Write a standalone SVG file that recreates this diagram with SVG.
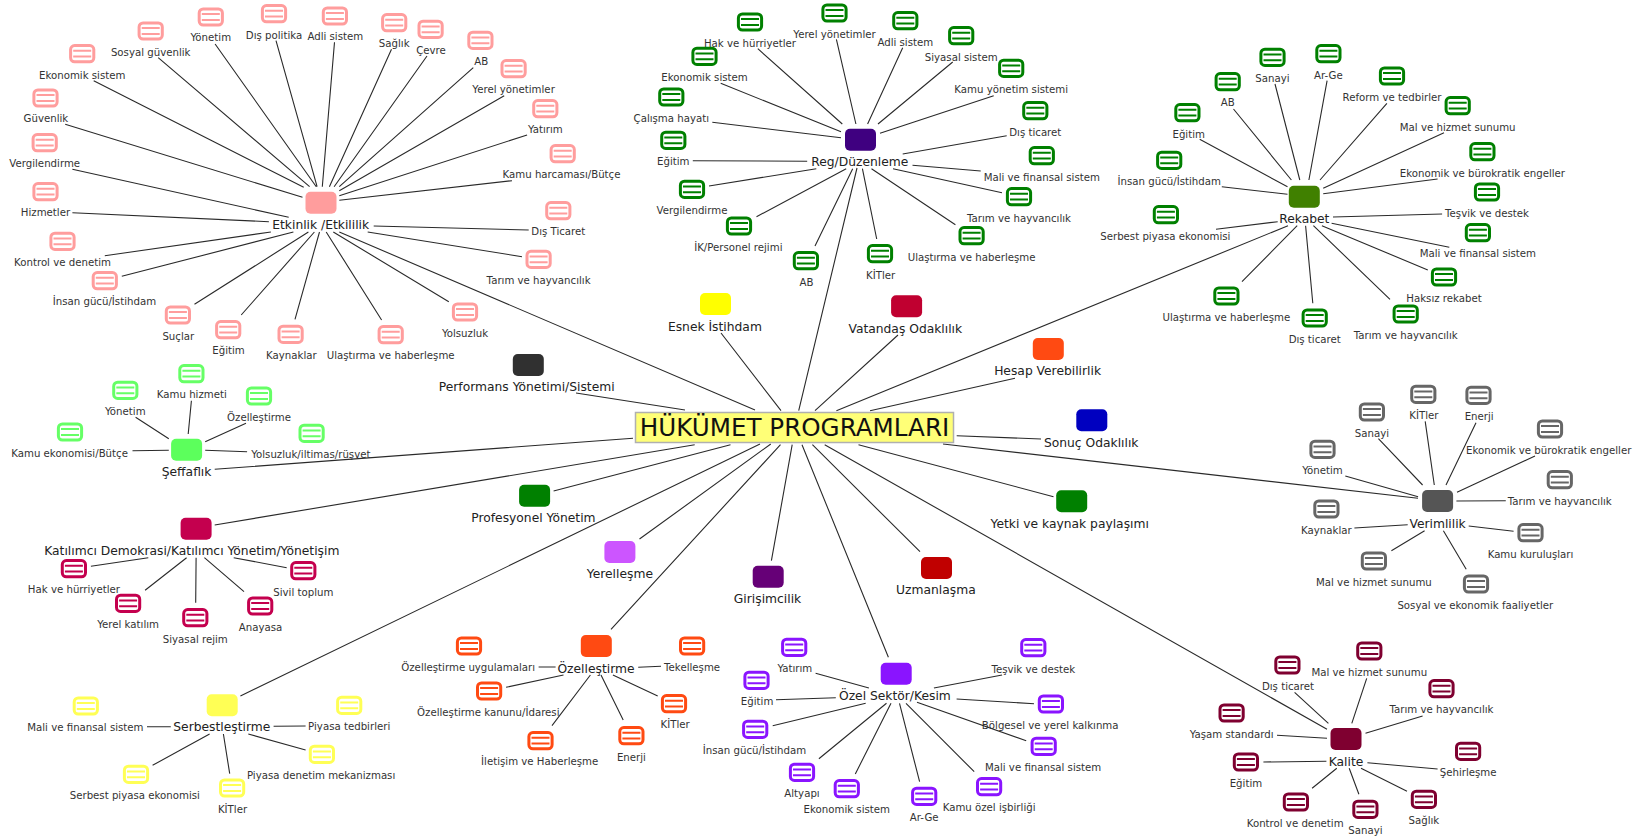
<svg xmlns="http://www.w3.org/2000/svg" width="1639" height="837" viewBox="0 0 1639 837">
<style>
text{font-family:"DejaVu Sans","Liberation Sans",sans-serif;text-anchor:middle;fill:#333}
.l text{font-size:10.2px}
.h text{font-size:12.3px;fill:#222}
#conn path{stroke:#2a2a2a;stroke-width:1.1;fill:none}
.pink{color:#ff9d9d}.green{color:#008000}.lime{color:#66ff66}.crim{color:#c4004e}.yel{color:#ffff55}.ora{color:#ff4a12}.pur{color:#8a14ff}.mar{color:#7f0030}.gry{color:#666}
</style>
<defs>
<g id="leaf"><rect x="-11.6" y="-8.1" width="23.2" height="16.2" rx="4" fill="#fff" stroke="currentColor" stroke-width="3"/><path d="M-9-2.9H9M-9 2.9H9" stroke="currentColor" stroke-width="2" fill="none"/></g>
<rect id="hub" x="-15.5" y="-11" width="31" height="22" rx="5" fill="currentColor"/>
</defs>
<g id="conn">
<path d="M93.7 80.7L303.7 187.3M158.2 57.7L309.6 186.7M215.1 44L316.3 186.7M276 40.7L317.1 186.7M334.5 42.3L322.3 186.7M391.5 49.3L329.4 186.7M427 56L334.1 186.7M473.3 67.7L339.3 186.7M504.2 95.7L339.3 190.7M527.1 135L339.3 195.7M512 180.7L339.3 200.3M528.7 230L373.7 226M522 256.7L367.7 232M448.8 301.7L333.3 232M381.6 320L326.2 232M295 319.3L319.5 232M241.2 315L314.4 232M194.5 304.3L308.4 232M121.8 276.3L293.4 232M104.8 255.7L270.9 232M72.4 212.7L268.9 221.7M72.4 169.3L288.7 217.3M65.2 124.3L302.5 197.3"/>
<path d="M339.3 232L755 410M576 393L685 410M721 333L781 410.7M857 168L798.7 410.7M898 335L815 410.7M1288 225.7L836.4 410.7M1015 378.3L870 410.7M956.7 435.7L1041 439M943 444L1418 498.3M858.5 444.7L1053.5 496.7M824.7 444.7L1327 729.3M812.4 444.7L920 551.7M802 444.7L888.4 657.3M792.2 444.7L771.4 560.7M780.5 444.7L611 629.3M770.8 444L639.5 539M760 444L240.4 696M730.5 444.7L553.6 491M694.7 444.7L214.7 525M633 438.3L214.7 469.3"/>
<path d="M757.8 48.7L842.3 124M836.4 39.3L855.9 124M902.7 47.7L867.6 124M952.7 62L878 124M993.7 95.7L880 133.3M1006.7 135.7L902.7 154M980.7 171L912.5 165.3M1002 192.7L893 168.7M955.4 224.7L871.5 168.7M876.7 239L862.4 168.7M815 246L852.7 168.7M756.5 216.7L846.2 168.7M709 186L816.3 168.7M692.8 160.7L807.2 161.3M712.3 122.3L841 137.7M720.7 83.3L841 131.7"/>
<path d="M1233.5 109L1291.4 180M1275 84L1299.8 180M1327.1 80.7L1308.9 180M1386.9 103.3L1320 180M1444 132.7L1323.2 188.3M1437.6 179L1323.2 193.7M1442.1 214L1333 217M1449.3 247.3L1331.6 223.3M1427.8 270L1321.9 225.7M1390 299.3L1313.4 225.7M1312.8 303.3L1305.6 225.7M1242 281.7L1297.2 225.7M1216 229.3L1277.7 221.7M1221.8 186.7L1287.5 194.3M1199.7 139.3L1287.5 186.7"/>
<path d="M191.4 400.7L188.2 434M135.6 417.3L168.8 438.7M246 423.3L205.2 441.7M247.1 451.7L205.2 450.3M132.5 450.7L168.8 450.3"/>
<path d="M90.9 566.3L148.3 557.7M145.1 590.3L186.6 557.7M195.7 602.7L196.1 557.7M244 591.7L204.4 557.7M286.7 567.7L233.7 557.7"/>
<path d="M147 726.7L170.8 726.7M273.6 726.3L305.6 726M305.6 750L248.3 734M229.7 773.7L223.4 734M152.6 765.3L209.6 734"/>
<path d="M538.6 667L555.6 667M506.1 687.3L563.5 675M552 725.7L590.4 675M601 675L623.2 720M612.9 675L657.7 696M638.2 667.3L661 666.3"/>
<path d="M815.6 673.3L868.9 688M776 699.7L835.8 697.7M772.7 725.7L865.7 703.3M818.9 758.7L886.5 703.3M855.3 774L891 703.3M919.6 781.7L899.5 703.3M974.2 771.7L906 703.3M1026.2 740.7L917 702.3M1034 703.7L956.6 699M1002.1 675L933.9 688"/>
<path d="M1366.7 678.3L1351.8 723.3M1294.6 692.3L1328.4 723.3M1422.6 716L1365.5 733.3M1277 735.3L1327 738.3M1263.4 762L1326.4 761.3M1437.6 769L1367.4 762.7M1407 791.3L1361 768.3M1358.9 794.3L1349.2 768.3M1312.1 788.3L1336.8 768.3"/>
<path d="M1345.3 476L1418.1 496.7M1378.4 438.7L1422.6 485M1425.2 421.3L1434.3 485M1476 422.7L1446 485M1535 456L1457 492.3M1505.8 500.7L1456.4 501M1513.6 531.3L1468.7 526M1466.2 569.3L1443.4 530.7M1391.4 550.7L1424.6 530.7M1354.4 528L1407.7 524.7"/>
</g>
<g id="root"><rect x="635.5" y="412.5" width="318" height="30" fill="#ffff77" stroke="#b0b0b0" stroke-width="1.5"/><text x="794.5" y="436.3" style="font-size:24.6px;fill:#111">HÜKÜMET PROGRAMLARI</text></g>
<g class="h">
<g id="h1" class="pink"><use href="#hub" x="321" y="202.7"/><text x="320.7" y="228.8">Etkinlik /Etkililik</text></g>
<g id="h2" style="color:#3f0080"><use href="#hub" x="860.5" y="139.7"/><text x="859.8" y="166.1">Reg/Düzenleme</text></g>
<g id="h3" style="color:#408000"><use href="#hub" x="1304.3" y="196.7"/><text x="1304.3" y="222.8">Rekabet</text></g>
<g id="h4" style="color:#ffff00"><use href="#hub" x="715.5" y="304"/><text x="714.9" y="330.5">Esnek İstihdam</text></g>
<g id="h5" style="color:#c00030"><use href="#hub" x="906.6" y="306.3"/><text x="905.3" y="332.8">Vatandaş Odaklılık</text></g>
<g id="h6" style="color:#ff4a12"><use href="#hub" x="1048.3" y="349"/><text x="1047.6" y="375.3">Hesap Verebilirlik</text></g>
<g id="h7" style="color:#303030"><use href="#hub" x="528.3" y="365"/><text x="526.7" y="391.1">Performans Yönetimi/Sistemi</text></g>
<g id="h8" style="color:#0000c0"><use href="#hub" x="1091.8" y="420.3"/><text x="1091.2" y="446.5">Sonuç Odaklılık</text></g>
<g id="h9" style="color:#008000"><use href="#hub" x="1071.7" y="501.3"/><text x="1069.7" y="527.8">Yetki ve kaynak paylaşımı</text></g>
<g id="h10" style="color:#c00000"><use href="#hub" x="936.5" y="568"/><text x="935.9" y="594.1">Uzmanlaşma</text></g>
<g id="h11" style="color:#660077"><use href="#hub" x="768.2" y="576.7"/><text x="767.5" y="603.1">Girişimcilik</text></g>
<g id="h12" style="color:#cc55ff"><use href="#hub" x="619.9" y="552"/><text x="619.9" y="577.8">Yerelleşme</text></g>
<g id="h13" style="color:#008000"><use href="#hub" x="534.6" y="495.7"/><text x="533.4" y="522.1">Profesyonel Yönetim</text></g>
<g id="h14" style="color:#5cff5c"><use href="#hub" x="186.6" y="449.7"/><text x="186.6" y="476.1">Şeffaflık</text></g>
<g id="h15" class="crim"><use href="#hub" x="196.1" y="528.7"/><text x="191.8" y="554.8">Katılımcı Demokrasi/Katılımcı Yönetim/Yönetişim</text></g>
<g id="h16" class="yel"><use href="#hub" x="222.2" y="705.3"/><text x="221.8" y="731.1">Serbestleştirme</text></g>
<g id="h17" class="ora"><use href="#hub" x="596.3" y="646"/><text x="596" y="672.8">Özelleştirme</text></g>
<g id="h18" class="pur"><use href="#hub" x="896.2" y="673.7"/><text x="894.9" y="699.8">Özel Sektör/Kesim</text></g>
<g id="h19" class="mar"><use href="#hub" x="1346" y="739"/><text x="1346" y="765.8">Kalite</text></g>
<g id="h20" style="color:#555"><use href="#hub" x="1437.6" y="501"/><text x="1437.6" y="527.5">Verimlilik</text></g>
</g>
<g class="l">
<g class="pink">
<g id="a1"><use href="#leaf" x="82.2" y="53.7"/><text x="82.2" y="78.7">Ekonomik sistem</text></g>
<g id="a2"><use href="#leaf" x="150.7" y="31"/><text x="150.7" y="56">Sosyal güvenlik</text></g>
<g id="a3"><use href="#leaf" x="210.8" y="17"/><text x="210.8" y="41.4">Yönetim</text></g>
<g id="a4"><use href="#leaf" x="274" y="13.7"/><text x="274" y="38.7">Dış politika</text></g>
<g id="a5"><use href="#leaf" x="334.9" y="16"/><text x="335.3" y="40.4">Adli sistem</text></g>
<g id="a6"><use href="#leaf" x="394.2" y="22.7"/><text x="394.2" y="47">Sağlık</text></g>
<g id="a7"><use href="#leaf" x="430.6" y="29.3"/><text x="431" y="54">Çevre</text></g>
<g id="a8"><use href="#leaf" x="480.4" y="40.3"/><text x="481.2" y="64.7">AB</text></g>
<g id="a9"><use href="#leaf" x="513.6" y="68.7"/><text x="513.6" y="93">Yerel yönetimler</text></g>
<g id="a10"><use href="#leaf" x="545.3" y="108.7"/><text x="545.3" y="133.4">Yatırım</text></g>
<g id="a11"><use href="#leaf" x="562.7" y="153.7"/><text x="561.5" y="178.4">Kamu harcaması/Bütçe</text></g>
<g id="a12"><use href="#leaf" x="558.3" y="210.7"/><text x="558.3" y="235.4">Dış Ticaret</text></g>
<g id="a13"><use href="#leaf" x="538.6" y="259.3"/><text x="538.6" y="283.7">Tarım ve hayvancılık</text></g>
<g id="a14"><use href="#leaf" x="465" y="312"/><text x="465" y="336.7">Yolsuzluk</text></g>
<g id="a15"><use href="#leaf" x="390.7" y="334.7"/><text x="390.7" y="359.4">Ulaştırma ve haberleşme</text></g>
<g id="a16"><use href="#leaf" x="290.6" y="334.3"/><text x="291.4" y="358.7">Kaynaklar</text></g>
<g id="a17"><use href="#leaf" x="228.2" y="329.7"/><text x="228.5" y="354.4">Eğitim</text></g>
<g id="a18"><use href="#leaf" x="177.9" y="315"/><text x="178.3" y="339.7">Suçlar</text></g>
<g id="a19"><use href="#leaf" x="104.8" y="280.7"/><text x="104.4" y="305.4">İnsan gücü/İstihdam</text></g>
<g id="a20"><use href="#leaf" x="62.5" y="241.3"/><text x="62.5" y="266">Kontrol ve denetim</text></g>
<g id="a21"><use href="#leaf" x="45.5" y="191.7"/><text x="45.5" y="216.4">Hizmetler</text></g>
<g id="a22"><use href="#leaf" x="44.7" y="142.7"/><text x="44.7" y="167.4">Vergilendirme</text></g>
<g id="a23"><use href="#leaf" x="45.5" y="98"/><text x="45.9" y="122.4">Güvenlik</text></g>
</g>
<g class="green">
<g id="b1"><use href="#leaf" x="750" y="22"/><text x="750" y="46.7">Hak ve hürriyetler</text></g>
<g id="b2"><use href="#leaf" x="834.5" y="13"/><text x="834.5" y="37.7">Yerel yönetimler</text></g>
<g id="b3"><use href="#leaf" x="905.3" y="20.7"/><text x="905.3" y="45.7">Adli sistem</text></g>
<g id="b4"><use href="#leaf" x="961.2" y="35.7"/><text x="961.2" y="60.7">Siyasal sistem</text></g>
<g id="b5"><use href="#leaf" x="1011.2" y="68.3"/><text x="1011.2" y="93">Kamu yönetim sistemi</text></g>
<g id="b6"><use href="#leaf" x="1035.3" y="110.7"/><text x="1035.3" y="135.7">Dış ticaret</text></g>
<g id="b7"><use href="#leaf" x="1041.8" y="155.7"/><text x="1041.8" y="180.7">Mali ve finansal sistem</text></g>
<g id="b8"><use href="#leaf" x="1019" y="196.7"/><text x="1019" y="221.7">Tarım ve hayvancılık</text></g>
<g id="b9"><use href="#leaf" x="971.6" y="235.7"/><text x="971.6" y="260.7">Ulaştırma ve haberleşme</text></g>
<g id="b10"><use href="#leaf" x="880" y="253.7"/><text x="880.6" y="278.7">KİTler</text></g>
<g id="b11"><use href="#leaf" x="805.9" y="260.7"/><text x="806.5" y="285.7">AB</text></g>
<g id="b12"><use href="#leaf" x="739" y="226"/><text x="738.3" y="250.7">İK/Personel rejimi</text></g>
<g id="b13"><use href="#leaf" x="692" y="189.3"/><text x="692" y="214.4">Vergilendirme</text></g>
<g id="b14"><use href="#leaf" x="673.3" y="140.3"/><text x="673.3" y="165">Eğitim</text></g>
<g id="b15"><use href="#leaf" x="671.3" y="97"/><text x="671.3" y="122">Çalışma hayatı</text></g>
<g id="b16"><use href="#leaf" x="704.5" y="56.3"/><text x="704.5" y="81.4">Ekonomik sistem</text></g>
<g id="c1"><use href="#leaf" x="1227.7" y="81.7"/><text x="1227.7" y="106.4">AB</text></g>
<g id="c2"><use href="#leaf" x="1272.5" y="57.3"/><text x="1272.5" y="82">Sanayi</text></g>
<g id="c3"><use href="#leaf" x="1328.4" y="53.7"/><text x="1328.4" y="78.7">Ar-Ge</text></g>
<g id="c4"><use href="#leaf" x="1392" y="76"/><text x="1392" y="101">Reform ve tedbirler</text></g>
<g id="c5"><use href="#leaf" x="1457.7" y="105.7"/><text x="1457.7" y="130.7">Mal ve hizmet sunumu</text></g>
<g id="c6"><use href="#leaf" x="1482.4" y="151.7"/><text x="1482.4" y="176.7">Ekonomik ve bürokratik engeller</text></g>
<g id="c7"><use href="#leaf" x="1487" y="192"/><text x="1487" y="217">Teşvik ve destek</text></g>
<g id="c8"><use href="#leaf" x="1477.9" y="232.7"/><text x="1477.9" y="257.4">Mali ve finansal sistem</text></g>
<g id="c9"><use href="#leaf" x="1444" y="277"/><text x="1444" y="302">Haksız rekabet</text></g>
<g id="c10"><use href="#leaf" x="1405.7" y="314"/><text x="1405.7" y="339">Tarım ve hayvancılık</text></g>
<g id="c11"><use href="#leaf" x="1314.7" y="318"/><text x="1314.7" y="343.4">Dış ticaret</text></g>
<g id="c12"><use href="#leaf" x="1226.4" y="296"/><text x="1226.4" y="321">Ulaştırma ve haberleşme</text></g>
<g id="c13"><use href="#leaf" x="1165.9" y="214.7"/><text x="1165.3" y="239.7">Serbest piyasa ekonomisi</text></g>
<g id="c14"><use href="#leaf" x="1169.2" y="160.3"/><text x="1169.2" y="185">İnsan gücü/İstihdam</text></g>
<g id="c15"><use href="#leaf" x="1187.4" y="112.7"/><text x="1188.7" y="137.7">Eğitim</text></g>
</g>
<g class="lime">
<g id="d1"><use href="#leaf" x="191.4" y="373.7"/><text x="191.8" y="398.4">Kamu hizmeti</text></g>
<g id="d2"><use href="#leaf" x="125.3" y="390.3"/><text x="125.3" y="415.4">Yönetim</text></g>
<g id="d3"><use href="#leaf" x="259" y="396"/><text x="259" y="421">Özelleştirme</text></g>
<g id="d4"><use href="#leaf" x="311.6" y="433.3"/><text x="310.8" y="458">Yolsuzluk/iltimas/rüşvet</text></g>
<g id="d5"><use href="#leaf" x="70" y="432"/><text x="69.6" y="456.7">Kamu ekonomisi/Bütçe</text></g>
</g>
<g class="crim">
<g id="e1"><use href="#leaf" x="73.9" y="568.7"/><text x="73.9" y="593.4">Hak ve hürriyetler</text></g>
<g id="e2"><use href="#leaf" x="128.1" y="603.3"/><text x="128.1" y="628">Yerel katılım</text></g>
<g id="e3"><use href="#leaf" x="195.3" y="617.7"/><text x="195.3" y="642.7">Siyasal rejim</text></g>
<g id="e4"><use href="#leaf" x="260.2" y="606"/><text x="260.6" y="630.7">Anayasa</text></g>
<g id="e5"><use href="#leaf" x="303.3" y="570.7"/><text x="303.3" y="595.7">Sivil toplum</text></g>
</g>
<g class="yel">
<g id="f1"><use href="#leaf" x="85.8" y="706"/><text x="85.4" y="731">Mali ve finansal sistem</text></g>
<g id="f2"><use href="#leaf" x="349.2" y="705.3"/><text x="349.2" y="730.4">Piyasa tedbirleri</text></g>
<g id="f3"><use href="#leaf" x="321.9" y="754.3"/><text x="321.1" y="779">Piyasa denetim mekanizması</text></g>
<g id="f4"><use href="#leaf" x="232.1" y="788"/><text x="232.5" y="812.7">KİTler</text></g>
<g id="f5"><use href="#leaf" x="136" y="774.3"/><text x="134.8" y="799">Serbest piyasa ekonomisi</text></g>
</g>
<g class="ora">
<g id="g1"><use href="#leaf" x="469" y="646"/><text x="468.2" y="670.7">Özelleştirme uygulamaları</text></g>
<g id="g2"><use href="#leaf" x="489.1" y="691"/><text x="488.3" y="716">Özelleştirme kanunu/İdaresi</text></g>
<g id="g3"><use href="#leaf" x="540.5" y="740.7"/><text x="539.7" y="765">İletişim ve Haberleşme</text></g>
<g id="g4"><use href="#leaf" x="631.4" y="735.7"/><text x="631.4" y="760.7">Enerji</text></g>
<g id="g5"><use href="#leaf" x="674" y="703.7"/><text x="675.2" y="728.4">KİTler</text></g>
<g id="g6"><use href="#leaf" x="692.1" y="646"/><text x="692.1" y="671">Tekelleşme</text></g>
</g>
<g class="pur">
<g id="i1"><use href="#leaf" x="794.2" y="647.3"/><text x="794.8" y="672.4">Yatırım</text></g>
<g id="i2"><use href="#leaf" x="756.5" y="680.3"/><text x="757.1" y="705">Eğitim</text></g>
<g id="i3"><use href="#leaf" x="755.2" y="729.3"/><text x="754.5" y="754.4">İnsan gücü/İstihdam</text></g>
<g id="i4"><use href="#leaf" x="802" y="772.3"/><text x="802" y="797.4">Altyapı</text></g>
<g id="i5"><use href="#leaf" x="846.8" y="788.7"/><text x="846.8" y="813.4">Ekonomik sistem</text></g>
<g id="i6"><use href="#leaf" x="924.2" y="796.3"/><text x="924.2" y="821.4">Ar-Ge</text></g>
<g id="i7"><use href="#leaf" x="989.1" y="786.7"/><text x="989.1" y="811.4">Kamu özel işbirliği</text></g>
<g id="i8"><use href="#leaf" x="1043.7" y="746.3"/><text x="1043.1" y="771.4">Mali ve finansal sistem</text></g>
<g id="i9"><use href="#leaf" x="1050.9" y="704"/><text x="1050.2" y="729.4">Bölgesel ve yerel kalkınma</text></g>
<g id="i10"><use href="#leaf" x="1033.3" y="647.7"/><text x="1033.3" y="672.7">Teşvik ve destek</text></g>
</g>
<g class="mar">
<g id="j1"><use href="#leaf" x="1369.3" y="651"/><text x="1369.3" y="676">Mal ve hizmet sunumu</text></g>
<g id="j2"><use href="#leaf" x="1287.4" y="665"/><text x="1288" y="690.4">Dış ticaret</text></g>
<g id="j3"><use href="#leaf" x="1441.5" y="688.7"/><text x="1441.5" y="713.4">Tarım ve hayvancılık</text></g>
<g id="j4"><use href="#leaf" x="1231.6" y="713"/><text x="1231.6" y="738">Yaşam standardı</text></g>
<g id="j5"><use href="#leaf" x="1245.9" y="762"/><text x="1245.9" y="787">Eğitim</text></g>
<g id="j6"><use href="#leaf" x="1468.1" y="751.3"/><text x="1468.1" y="776.4">Şehirleşme</text></g>
<g id="j7"><use href="#leaf" x="1423.9" y="799.3"/><text x="1423.9" y="824.4">Sağlık</text></g>
<g id="j8"><use href="#leaf" x="1365.4" y="809.3"/><text x="1365.4" y="834.4">Sanayi</text></g>
<g id="j9"><use href="#leaf" x="1295.9" y="802"/><text x="1295.2" y="826.7">Kontrol ve denetim</text></g>
</g>
<g class="gry">
<g id="k1"><use href="#leaf" x="1322.5" y="449.3"/><text x="1322.5" y="474">Yönetim</text></g>
<g id="k2"><use href="#leaf" x="1371.9" y="412"/><text x="1371.9" y="436.7">Sanayi</text></g>
<g id="k3"><use href="#leaf" x="1423.3" y="394.3"/><text x="1423.9" y="419.4">KİTler</text></g>
<g id="k4"><use href="#leaf" x="1478.5" y="395.3"/><text x="1479.2" y="420.4">Enerji</text></g>
<g id="k5"><use href="#leaf" x="1550" y="429"/><text x="1548.7" y="453.7">Ekonomik ve bürokratik engeller</text></g>
<g id="k6"><use href="#leaf" x="1559.8" y="479.7"/><text x="1559.8" y="504.7">Tarım ve hayvancılık</text></g>
<g id="k7"><use href="#leaf" x="1530.5" y="532.7"/><text x="1530.5" y="557.7">Kamu kuruluşları</text></g>
<g id="k8"><use href="#leaf" x="1476" y="584"/><text x="1475.3" y="609">Sosyal ve ekonomik faaliyetler</text></g>
<g id="k9"><use href="#leaf" x="1373.9" y="561"/><text x="1373.9" y="585.7">Mal ve hizmet sunumu</text></g>
<g id="k10"><use href="#leaf" x="1326.4" y="509"/><text x="1326.4" y="534">Kaynaklar</text></g>
</g>
</g>
</svg>
